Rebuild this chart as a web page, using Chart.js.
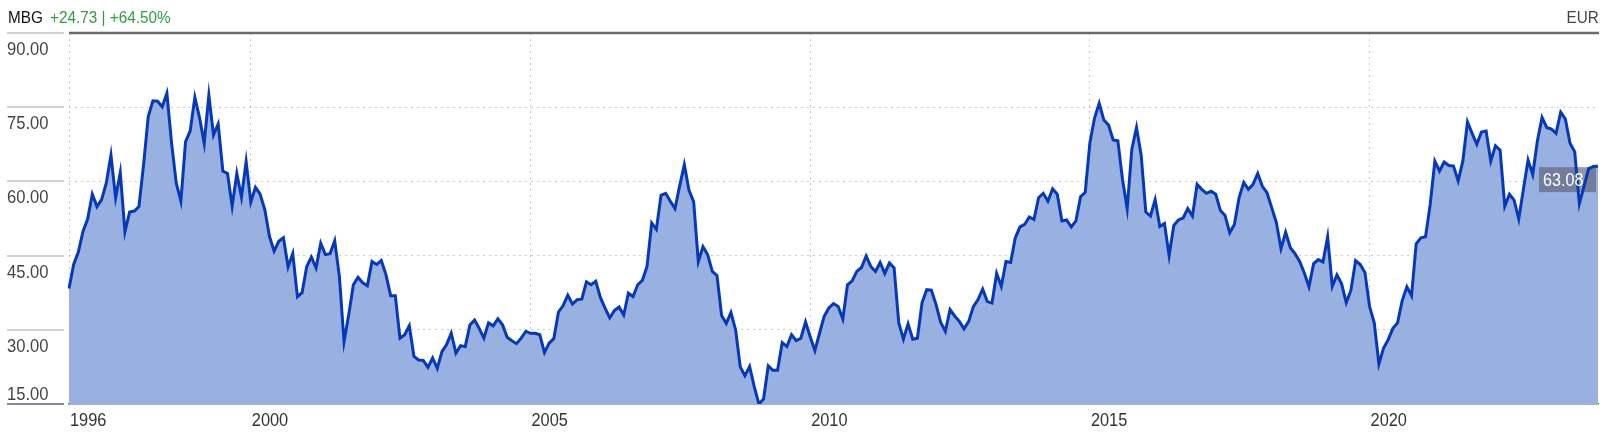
<!DOCTYPE html>
<html>
<head>
<meta charset="utf-8">
<script src="https://cdn.jsdelivr.net/npm/chart.js@4.4.1/dist/chart.umd.min.js"></script>
<style>
  html, body { margin: 0; padding: 0; background: #fff; }
  #wrap { position: relative; width: 1614px; height: 439px; }
  .narrow { font-family: 'Liberation Sans', Arial, sans-serif; font-size: 17px; line-height: 17px; white-space: nowrap; }
  #head { position: absolute; left: 8px; top: 9px; color: #111; transform: scaleX(0.9); transform-origin: left top; }
  #head .chg { color: #2f9e3a; margin-left: 8px; }
  #cur { position: absolute; right: 15px; top: 9px; color: #444; transform: scaleX(0.9); transform-origin: right top; }
</style>
</head>
<body>
<div id="wrap">
  <canvas id="priceChart"></canvas>
  <div id="head" class="narrow"><span>MBG</span><span class="chg">+24.73 | +64.50%</span></div>
  <div id="cur" class="narrow">EUR</div>
</div>
<script>
const FONT = "'Liberation Sans', Arial, sans-serif";

// monthly closes, Oct 1996 .. Feb 2024
const startYear = 1996;
const startMonth = 10;
const closes = [
  38.35, 43.2, 45.7, 49.9, 52.4, 57.4, 54.9, 56.3, 59.7, 65.3, 56.7, 61.8,
  49.8, 53.8, 54.0, 54.9, 63.4, 73.1, 76.3, 76.2, 75.1, 77.8, 67.8, 59.7,
  56.0, 68.0, 70.2, 77.0, 72.9, 67.7, 77.4, 69.4, 71.6, 62.1, 61.6, 55.0,
  61.6, 56.8, 64.0, 55.8, 58.8, 57.4, 54.3, 48.9, 45.9, 47.9, 48.6, 42.7,
  45.4, 36.7, 37.5, 42.8, 44.7, 42.5, 47.5, 45.2, 45.4, 48.0, 40.8, 27.6,
  33.0, 39.1, 40.6, 39.5, 38.9, 43.8, 43.2, 44.0, 41.1, 36.9, 36.9, 28.3,
  29.0, 30.8, 24.6, 23.9, 23.8, 22.4, 24.3, 22.2, 25.6, 27.0, 29.3, 25.3,
  26.8, 26.6, 31.0, 32.0, 30.3, 28.3, 31.4, 30.8, 32.2, 31.0, 28.5, 27.8,
  27.2, 28.3, 29.7, 29.3, 29.3, 29.0, 25.4, 27.3, 28.2, 33.6, 34.9, 37.0,
  35.2, 36.1, 36.2, 39.7, 39.1, 39.8, 36.5, 34.4, 32.4, 33.9, 34.6, 33.0,
  37.4, 36.7, 39.1, 40.0, 42.8, 51.6, 50.3, 57.2, 57.6, 56.0, 54.5, 59.1,
  63.4, 58.2, 55.9, 43.8, 46.8, 45.2, 41.8, 41.0, 32.9, 31.3, 33.5, 30.0,
  22.5, 20.7, 22.6, 18.5, 15.0, 16.0, 22.7, 21.8, 21.8, 27.4, 26.6, 29.0,
  27.8, 28.3, 31.6, 28.6, 25.8, 29.3, 32.7, 34.4, 35.3, 34.7, 32.2, 39.1,
  39.9, 41.8, 42.6, 44.9, 42.8, 41.8, 43.6, 41.4, 43.5, 42.5, 31.4, 28.1,
  31.2, 28.1, 28.3, 35.5, 38.1, 38.0, 35.1, 31.5, 29.7, 34.1, 32.8, 31.7,
  30.2, 31.7, 34.7, 36.1, 38.2, 35.7, 35.4, 41.4, 38.8, 43.8, 43.6, 48.6,
  50.8, 51.3, 52.8, 52.3, 56.7, 57.6, 56.0, 58.5, 57.4, 52.0, 52.2, 50.8,
  52.0, 56.9, 57.8, 67.8, 72.8, 75.8, 72.4, 71.4, 68.4, 68.2, 60.4, 54.5,
  66.5, 70.9, 65.3, 53.8, 53.0, 56.3, 50.9, 51.5, 45.0, 51.1, 52.2, 52.6,
  54.5, 53.0, 59.4, 58.4, 57.6, 58.0, 57.4, 54.1, 53.1, 49.6, 51.3, 56.7,
  59.8, 58.4, 59.4, 61.6, 59.0, 57.7, 54.7, 51.7, 46.4, 49.7, 46.6, 45.4,
  43.8, 41.5, 38.7, 43.4, 44.2, 43.7, 48.8, 38.8, 41.1, 39.3, 35.5, 38.0,
  44.0, 43.2, 41.6, 34.7, 31.4, 23.1, 26.3, 28.0, 30.3, 31.4, 35.9, 38.7,
  36.9, 47.4, 48.6, 48.8, 55.3, 64.1, 62.1, 63.9, 63.2, 63.1, 60.1, 64.1,
  72.0, 69.7, 67.5, 70.0, 70.2, 64.1, 67.2, 66.3, 55.0, 57.4, 56.2, 52.4,
  58.4, 64.3, 61.4, 68.2, 72.9, 70.9, 70.6, 69.7, 74.0, 72.6, 67.7, 66.0,
  55.5, 59.0, 62.6, 63.0, 63.08
];

const months = closes.map((_, i) => {
  const m = startMonth - 1 + i;
  return (startYear + Math.floor(m / 12)) + "-" + String((m % 12) + 1).padStart(2, "0");
});

const yearTicks = ["1996", "2000", "2005", "2010", "2015", "2020"];
const yTicks = [15, 30, 45, 60, 75, 90];

// narrow text: the installed sans squeezed horizontally
function narrowText(ctx, text, x, y, size, squeeze) {
  ctx.save();
  ctx.font = size + "px " + FONT;
  ctx.translate(x, y);
  ctx.scale(squeeze, 1);
  ctx.fillText(text, 0, 0);
  ctx.restore();
}

function tagBox(chart) {
  const meta = chart.getDatasetMeta(0);
  const pt = meta.data[meta.data.length - 1];
  const w = 57, h = 25;
  return { x: pt.x - 2 - w, y: pt.y + 1, w, h };
}

const priceTag = {
  id: "priceTag",
  // box goes after the fill, before the line; the text on top of the line
  beforeDatasetDraw(chart, args) {
    if (args.index !== 0) return;
    const b = tagBox(chart);
    chart.ctx.save();
    chart.ctx.fillStyle = "rgba(95, 100, 122, 0.68)";
    chart.ctx.fillRect(b.x, b.y, b.w, b.h);
    chart.ctx.restore();
  },
  afterDatasetsDraw(chart) {
    const b = tagBox(chart);
    const ctx = chart.ctx;
    ctx.save();
    ctx.fillStyle = "#fff";
    ctx.textAlign = "left";
    ctx.textBaseline = "alphabetic";
    narrowText(ctx, closes[closes.length - 1].toFixed(2), b.x + 4, b.y + 19, 19, 0.85);
    ctx.restore();
  },
};

const axisDecor = {
  id: "axisDecor",
  afterDraw(chart) {
    const { ctx, chartArea, scales } = chart;
    const x = scales.x;
    const y = scales.y;
    ctx.save();

    // top rule
    ctx.strokeStyle = "#6a6a6a";
    ctx.lineWidth = 2.5;
    ctx.beginPath();
    ctx.moveTo(chartArea.left, chartArea.top);
    ctx.lineTo(chartArea.right + 1, chartArea.top);
    ctx.stroke();

    // y labels sit under their tick line, the lowest one above it
    ctx.fillStyle = "#444";
    ctx.textAlign = "left";
    ctx.textBaseline = "alphabetic";
    yTicks.forEach((v, i) => {
      const py = Math.round(y.getPixelForValue(v));
      const lowest = i === 0;
      ctx.strokeStyle = lowest ? "#5b6070" : "#cfcfcf";
      ctx.lineWidth = lowest ? 1.5 : 2;
      ctx.beginPath();
      ctx.moveTo(7, py);
      ctx.lineTo(64, py);
      ctx.stroke();
      narrowText(ctx, v.toFixed(2), 7, lowest ? py - 4 : py + 22, 18, 0.92);
    });

    // year labels, left aligned on their grid line
    ctx.fillStyle = "#333";
    x.ticks.forEach((t, i) => {
      if (t.label === null || t.label === undefined || t.label === "") return;
      narrowText(ctx, t.label, x.getPixelForTick(i) + 1, chartArea.bottom + 22, 19, 0.86);
    });

    ctx.restore();
  },
};

const chart = new Chart(document.getElementById("priceChart"), {
  type: "line",
  data: {
    labels: months,
    datasets: [
      {
        data: closes,
        borderColor: "#0639b8",
        borderWidth: 3,
        backgroundColor: "#99b1e1",
        fill: "start",
        pointRadius: 0,
        tension: 0,
      },
    ],
  },
  options: {
    responsive: true,
    maintainAspectRatio: false,
    animation: false,
    layout: { padding: { top: 33, right: 16, left: 0, bottom: 0 } },
    plugins: {
      legend: { display: false },
      tooltip: { enabled: false },
    },
    scales: {
      x: {
        type: "category",
        offset: false,
        z: 1,
        afterFit: (scale) => { scale.height = 35; },
        grid: { color: "rgba(100, 100, 100, 0.35)", lineWidth: 1, drawTicks: false },
        border: { display: true, color: "#5b6070", width: 1.5, dash: [2, 4] },
        ticks: {
          autoSkip: false,
          maxRotation: 0,
          align: "start",
          color: "rgba(0,0,0,0)",
          font: { family: FONT, size: 19 },
          callback: (value, index) => {
            const [yr, mo] = months[index].split("-");
            if (index === 0) return yearTicks[0];
            if (mo === "01" && yearTicks.includes(yr)) return yr;
            return null;
          },
        },
      },
      y: {
        min: 15,
        max: 90,
        z: 1,
        afterFit: (scale) => { scale.width = 69; },
        afterBuildTicks: (scale) => { scale.ticks = yTicks.map((v) => ({ value: v })); },
        grid: {
          drawTicks: false,
          lineWidth: 1,
          color: (c) => (c.tick && (c.tick.value === 15 || c.tick.value === 90) ? "rgba(0,0,0,0)" : "rgba(100, 100, 100, 0.35)"),
        },
        border: { display: false, dash: [2, 4] },
        ticks: { display: false },
      },
    },
  },
  plugins: [priceTag, axisDecor],
});
</script>
</body>
</html>
